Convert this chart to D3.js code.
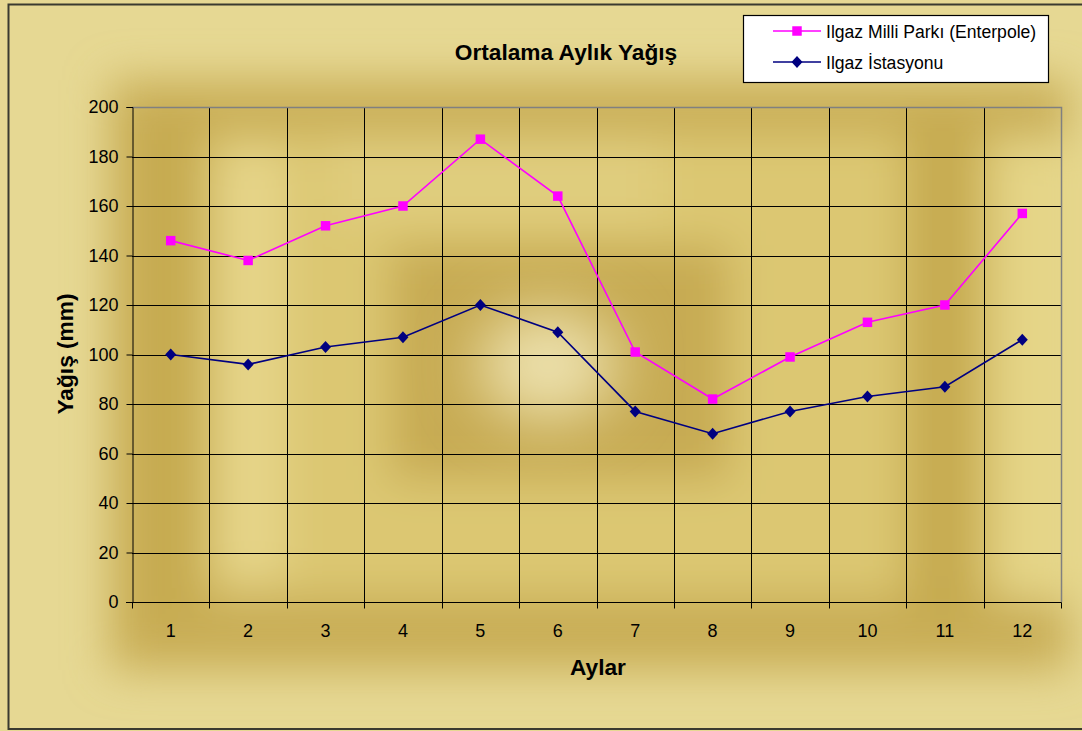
<!DOCTYPE html>
<html>
<head>
<meta charset="utf-8">
<script src="https://cdn.jsdelivr.net/npm/d3@7"></script>
<style>
  body { margin: 0; background: #fff; }
  svg { display: block; font-family: Arial, "Liberation Sans", sans-serif; }
</style>
</head>
<body>
<div id="chart"></div>
<script>
// data
const months = ["1","2","3","4","5","6","7","8","9","10","11","12"];
const milliParki = [146, 138, 152, 160, 187, 164, 101, 82, 99, 113, 120, 157];
const istasyon = [100, 96, 103, 107, 120, 109, 77, 68, 77, 83, 87, 106];
const yTicks = [0, 20, 40, 60, 80, 100, 120, 140, 160, 180, 200];
const seriesNames = ["Ilgaz Milli Parkı (Enterpole)", "Ilgaz İstasyonu"];

const width = 1082, height = 731;
const plot = { left: 132, right: 1061, top: 107, bottom: 602 };

const svg = d3.select("#chart").append("svg")
  .attr("width", width)
  .attr("height", height);

// gold texture background
const defs = svg.append("defs");
defs.append("filter").attr("id", "blur").attr("x", "-20%").attr("y", "-20%")
  .attr("width", "140%").attr("height", "140%")
  .append("feGaussianBlur").attr("stdDeviation", 22);
defs.append("filter").attr("id", "blur2").attr("x", "-50%").attr("y", "-50%")
  .attr("width", "200%").attr("height", "200%")
  .append("feGaussianBlur").attr("stdDeviation", 30);

svg.append("rect").attr("width", width).attr("height", height).attr("fill", "#e6d893");

const bg = svg.append("g").attr("filter", "url(#blur)");
// dark frame around the plot
bg.append("rect").attr("x", 110).attr("y", 80).attr("width", 960).attr("height", 590)
  .attr("fill", "#c9ae56");
// lighter inside
bg.append("rect").attr("x", 150).attr("y", 135).attr("width", 880).attr("height", 460)
  .attr("fill", "#dcc772");
// dark column 1 and 11
bg.append("rect").attr("x", 140).attr("y", 120).attr("width", 65).attr("height", 500).attr("fill", "#c6aa4f");
bg.append("rect").attr("x", 905).attr("y", 120).attr("width", 75).attr("height", 500).attr("fill", "#c6aa4f");
// light column 2 and 12
bg.append("rect").attr("x", 222).attr("y", 150).attr("width", 60).attr("height", 430).attr("fill", "#e6d58a");
bg.append("rect").attr("x", 1000).attr("y", 140).attr("width", 90).attr("height", 460).attr("fill", "#e5d588");
// middle ring
bg.append("rect").attr("x", 390).attr("y", 245).attr("width", 340).attr("height", 235).attr("fill", "#c7ab52");
bg.append("rect").attr("x", 330).attr("y", 140).attr("width", 330).attr("height", 80).attr("fill", "#e0cd7e");
svg.append("ellipse").attr("cx", 548).attr("cy", 365).attr("rx", 70).attr("ry", 55)
  .attr("fill", "#ece0ac").attr("filter", "url(#blur2)");

// chart border
svg.append("rect").attr("x", 8.5).attr("y", 4.5).attr("width", 1100).attr("height", 724.5)
  .attr("fill", "none").attr("stroke", "#3a3a30").attr("stroke-width", 2);

// scales
const x = d3.scaleBand().domain(months).range([plot.left, plot.right]);
const y = d3.scaleLinear().domain([0, 200]).range([plot.bottom, plot.top]);

// horizontal grid
svg.append("g")
  .selectAll("line")
  .data(yTicks.filter(d => d > 0 && d < 200))
  .join("line")
  .attr("x1", plot.left).attr("x2", plot.right)
  .attr("y1", d => Math.round(y(d)) + 0.5).attr("y2", d => Math.round(y(d)) + 0.5)
  .attr("stroke", "#000").attr("stroke-width", 1);

// vertical grid at band boundaries
svg.append("g")
  .selectAll("line")
  .data(months.slice(1))
  .join("line")
  .attr("x1", d => Math.round(x(d)) + 0.5).attr("x2", d => Math.round(x(d)) + 0.5)
  .attr("y1", plot.top).attr("y2", plot.bottom)
  .attr("stroke", "#000").attr("stroke-width", 1);

// plot border top/right in gray
svg.append("path")
  .attr("d", `M${plot.left},${plot.top + 0.5}H${plot.right + 0.5}V${plot.bottom}`)
  .attr("fill", "none").attr("stroke", "#808080").attr("stroke-width", 1.5);

// y axis
const yAxis = svg.append("g")
  .attr("transform", `translate(${plot.left + 0.5},0)`)
  .call(d3.axisLeft(y).tickValues(yTicks).tickSize(6).tickPadding(8));
yAxis.select(".domain").attr("stroke", "#000");
yAxis.selectAll("line").attr("stroke", "#000");
yAxis.selectAll("text").attr("font-size", 18).attr("fill", "#000")
  .attr("font-family", "Arial, 'Liberation Sans', sans-serif");

// x axis: ticks at band edges, labels at centers
const xAxis = svg.append("g")
  .attr("transform", `translate(0,${plot.bottom + 0.5})`);
xAxis.append("line")
  .attr("x1", plot.left - 6).attr("x2", plot.right + 0.5)
  .attr("stroke", "#000");
xAxis.selectAll(".edge")
  .data(d3.range(months.length + 1))
  .join("line")
  .attr("class", "edge")
  .attr("x1", i => Math.round(plot.left + i * x.bandwidth()) + 0.5)
  .attr("x2", i => Math.round(plot.left + i * x.bandwidth()) + 0.5)
  .attr("y1", 0).attr("y2", 6)
  .attr("stroke", "#000");
xAxis.selectAll(".lbl")
  .data(months)
  .join("text")
  .attr("class", "lbl")
  .attr("x", d => x(d) + x.bandwidth() / 2)
  .attr("y", 34)
  .attr("text-anchor", "middle")
  .attr("font-size", 18)
  .text(d => d);

// lines
const line = d3.line()
  .x((d, i) => x(months[i]) + x.bandwidth() / 2)
  .y(d => y(d));

svg.append("path").datum(milliParki)
  .attr("d", line).attr("fill", "none")
  .attr("stroke", "#ff00ff").attr("stroke-width", 1.6);
svg.append("path").datum(istasyon)
  .attr("d", line).attr("fill", "none")
  .attr("stroke", "#000080").attr("stroke-width", 1.6);

const square = d3.symbol().type(d3.symbolSquare).size(90);
const diamond = "M0,-6L5.5,0L0,6L-5.5,0Z";

svg.append("g").selectAll("path")
  .data(milliParki)
  .join("path")
  .attr("transform", (d, i) => `translate(${x(months[i]) + x.bandwidth() / 2},${y(d)})`)
  .attr("d", square)
  .attr("fill", "#ff00ff");

svg.append("g").selectAll("path")
  .data(istasyon)
  .join("path")
  .attr("transform", (d, i) => `translate(${x(months[i]) + x.bandwidth() / 2},${y(d)})`)
  .attr("d", diamond)
  .attr("fill", "#000080");

// titles
svg.append("text")
  .attr("x", 566).attr("y", 60)
  .attr("text-anchor", "middle")
  .attr("font-size", 22.7).attr("font-weight", "bold")
  .text("Ortalama Aylık Yağış");

svg.append("text")
  .attr("x", 598).attr("y", 675)
  .attr("text-anchor", "middle")
  .attr("font-size", 22.7).attr("font-weight", "bold")
  .text("Aylar");

svg.append("text")
  .attr("transform", "translate(73,354) rotate(-90)")
  .attr("text-anchor", "middle")
  .attr("font-size", 22.7).attr("font-weight", "bold")
  .text("Yağış (mm)");

// legend
const legend = svg.append("g");
legend.append("rect")
  .attr("x", 743.5).attr("y", 15.5).attr("width", 305).attr("height", 67)
  .attr("fill", "#fff").attr("stroke", "#000").attr("stroke-width", 1.2);

const legendItems = [
  { name: seriesNames[0], color: "#ff00ff", marker: square, y: 31 },
  { name: seriesNames[1], color: "#000080", marker: diamond, y: 62 }
];
legendItems.forEach(it => {
  legend.append("line")
    .attr("x1", 773).attr("x2", 821)
    .attr("y1", it.y).attr("y2", it.y)
    .attr("stroke", it.color).attr("stroke-width", 1.6);
  legend.append("path")
    .attr("transform", `translate(797,${it.y})`)
    .attr("d", it.marker)
    .attr("fill", it.color);
  legend.append("text")
    .attr("x", 826).attr("y", it.y + 6.5)
    .attr("font-size", 17.6)
    .text(it.name);
});
</script>
</body>
</html>
